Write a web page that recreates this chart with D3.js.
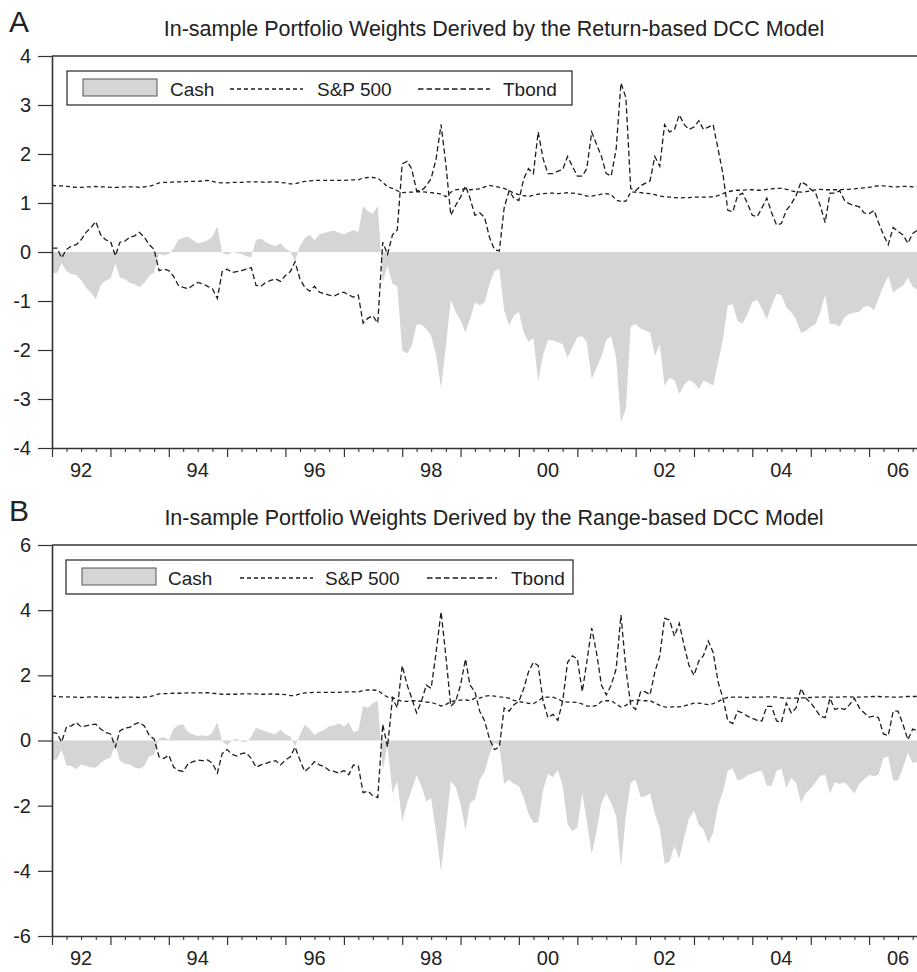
<!DOCTYPE html>
<html>
<head>
<meta charset="utf-8">
<script src="https://cdn.jsdelivr.net/npm/d3@7"></script>
<style>
  body { margin: 0; background: #fff; }
  svg { display: block; }
  text { font-family: "Liberation Sans", Arial, sans-serif; fill: #222; }
</style>
</head>
<body>
<svg id="chart" width="917" height="972"></svg>
<script>
// monthly observations, Jan 1992 .. Nov 2006
const tbA = [
  0.08,0.08,-0.12,0.05,0.12,0.15,0.25,0.4,0.5,0.62,
  0.35,0.25,0.22,-0.08,0.2,0.22,0.3,0.33,0.4,0.3,
  0.15,0.05,-0.38,-0.35,-0.38,-0.5,-0.68,-0.72,-0.75,-0.68,
  -0.62,-0.65,-0.7,-0.75,-0.95,-0.4,-0.35,-0.42,-0.4,-0.38,
  -0.35,-0.32,-0.68,-0.7,-0.62,-0.58,-0.55,-0.6,-0.48,-0.4,
  -0.2,-0.55,-0.72,-0.8,-0.7,-0.82,-0.85,-0.88,-0.9,-0.85,
  -0.82,-0.88,-0.92,-0.88,-1.45,-1.35,-1.3,-1.45,0.2,-0.05,
  0.35,0.45,1.8,1.85,1.7,1.25,1.25,1.35,1.5,1.9,
  2.6,1.8,0.75,0.95,1.12,1.35,1.1,0.75,0.8,0.7,
  0.3,0.05,0.02,0.9,1.25,1.1,1.05,1.5,1.7,1.6,
  2.45,1.9,1.6,1.6,1.65,1.68,1.95,1.75,1.55,1.55,
  1.7,2.45,2.2,1.95,1.6,1.55,2.1,3.45,3.15,1.3,
  1.25,1.35,1.4,1.45,1.95,1.75,2.6,2.45,2.5,2.8,
  2.6,2.5,2.55,2.68,2.5,2.55,2.6,2.1,1.6,0.85,
  0.82,1.15,1.2,1.0,0.75,0.72,0.9,1.1,0.8,0.55,
  0.58,0.85,0.98,1.15,1.43,1.38,1.28,1.2,0.95,0.6,
  1.2,1.2,1.25,1.05,0.98,0.95,0.92,0.8,0.78,0.85,
  0.6,0.35,0.15,0.5,0.42,0.35,0.18,0.38,0.45
];
const spA = [
  1.36,1.35,1.35,1.34,1.33,1.32,1.32,1.33,1.33,1.34,
  1.33,1.33,1.32,1.32,1.32,1.33,1.33,1.33,1.32,1.33,
  1.34,1.37,1.41,1.42,1.42,1.43,1.43,1.43,1.44,1.44,
  1.44,1.45,1.46,1.44,1.42,1.41,1.41,1.42,1.42,1.42,
  1.43,1.43,1.43,1.43,1.42,1.43,1.43,1.42,1.41,1.39,
  1.39,1.42,1.44,1.45,1.46,1.46,1.46,1.46,1.46,1.46,
  1.46,1.47,1.47,1.47,1.51,1.52,1.52,1.51,1.42,1.33,
  1.3,1.25,1.21,1.22,1.22,1.23,1.23,1.22,1.21,1.2,
  1.18,1.13,1.22,1.27,1.28,1.29,1.27,1.28,1.29,1.33,
  1.36,1.34,1.32,1.3,1.25,1.2,1.17,1.15,1.13,1.16,
  1.18,1.19,1.2,1.2,1.19,1.2,1.21,1.2,1.19,1.17,
  1.14,1.14,1.16,1.18,1.19,1.17,1.06,1.03,1.04,1.22,
  1.22,1.21,1.2,1.19,1.17,1.14,1.13,1.12,1.11,1.1,
  1.11,1.11,1.12,1.12,1.12,1.12,1.13,1.15,1.19,1.23,
  1.25,1.26,1.26,1.27,1.27,1.26,1.26,1.28,1.29,1.3,
  1.3,1.28,1.25,1.23,1.22,1.23,1.25,1.27,1.28,1.27,
  1.27,1.27,1.27,1.28,1.28,1.29,1.3,1.31,1.32,1.34,
  1.35,1.35,1.34,1.33,1.33,1.34,1.34,1.33,1.33
];
const cashA = [
  -0.44,-0.43,-0.23,-0.39,-0.45,-0.47,-0.57,-0.73,-0.83,-0.96,
  -0.68,-0.58,-0.54,-0.24,-0.52,-0.55,-0.63,-0.66,-0.72,-0.63,
  -0.49,-0.42,-0.03,-0.07,-0.04,0.07,0.25,0.29,0.31,0.24,
  0.18,0.2,0.24,0.31,0.53,-0.01,-0.06,0.0,-0.02,-0.04,
  -0.08,-0.11,0.25,0.27,0.2,0.15,0.12,0.18,0.07,0.01,
  -0.19,0.13,0.28,0.35,0.24,0.36,0.39,0.42,0.44,0.39,
  0.36,0.41,0.45,0.41,0.94,0.83,0.78,0.94,-0.62,-0.28,
  -0.65,-0.7,-2.01,-2.07,-1.92,-1.48,-1.48,-1.57,-1.71,-2.1,
  -2.78,-1.93,-0.97,-1.22,-1.4,-1.64,-1.37,-1.03,-1.09,-1.03,
  -0.66,-0.39,-0.34,-1.2,-1.5,-1.3,-1.22,-1.65,-1.83,-1.76,
  -2.63,-2.09,-1.8,-1.8,-1.84,-1.88,-2.16,-1.95,-1.74,-1.72,
  -1.84,-2.59,-2.36,-2.13,-1.79,-1.72,-2.16,-3.48,-3.19,-1.52,
  -1.47,-1.56,-1.6,-1.64,-2.12,-1.89,-2.73,-2.57,-2.61,-2.9,
  -2.71,-2.61,-2.67,-2.8,-2.62,-2.67,-2.73,-2.25,-1.79,-1.08,
  -1.07,-1.41,-1.46,-1.27,-1.02,-0.98,-1.16,-1.38,-1.09,-0.85,
  -0.88,-1.13,-1.23,-1.38,-1.65,-1.61,-1.53,-1.47,-1.23,-0.87,
  -1.47,-1.47,-1.52,-1.33,-1.26,-1.24,-1.22,-1.11,-1.1,-1.19,
  -0.95,-0.7,-0.49,-0.83,-0.75,-0.69,-0.52,-0.71,-0.78
];

const tbB = [
  0.25,0.22,-0.05,0.42,0.45,0.55,0.42,0.45,0.48,0.5,
  0.35,0.25,0.2,-0.2,0.3,0.38,0.4,0.5,0.55,0.45,
  0.15,0.05,-0.5,-0.55,-0.45,-0.82,-0.92,-0.95,-0.72,-0.65,
  -0.6,-0.62,-0.6,-0.7,-1.0,-0.4,-0.28,-0.42,-0.48,-0.4,
  -0.38,-0.55,-0.82,-0.75,-0.7,-0.65,-0.62,-0.75,-0.6,-0.5,
  -0.2,-0.6,-0.95,-0.82,-0.65,-0.75,-0.8,-0.92,-0.95,-1.0,
  -0.92,-1.05,-0.75,-0.78,-1.6,-1.55,-1.7,-1.75,0.5,-0.2,
  1.3,1.0,2.3,1.7,1.3,0.85,1.2,1.7,1.6,2.7,
  3.95,2.6,1.05,1.2,1.7,2.5,1.7,1.5,0.9,0.6,
  0.05,-0.28,-0.2,1.0,0.9,1.1,1.2,1.6,2.1,2.4,
  2.3,1.2,0.7,0.8,0.62,1.2,2.4,2.6,2.5,1.5,
  2.4,3.45,2.7,1.7,1.4,1.7,2.2,3.85,2.2,1.1,
  0.95,1.5,1.5,1.4,2.1,2.6,3.75,3.7,3.2,3.6,
  2.9,2.3,2.0,2.45,2.6,3.05,2.7,1.8,1.3,0.6,
  0.52,0.9,0.85,0.75,0.68,0.62,0.6,1.05,1.05,0.6,
  0.55,1.15,0.85,1.0,1.6,1.3,1.15,0.95,0.75,0.7,
  1.3,0.95,1.0,0.95,1.1,1.3,1.0,0.85,0.72,0.75,
  0.7,0.2,0.15,0.9,0.9,0.5,0.02,0.35,0.3
];
const spB = [
  1.36,1.35,1.34,1.34,1.33,1.33,1.32,1.33,1.34,1.34,
  1.33,1.33,1.32,1.32,1.32,1.33,1.33,1.33,1.32,1.33,
  1.34,1.38,1.43,1.44,1.44,1.45,1.45,1.45,1.46,1.46,
  1.46,1.46,1.47,1.45,1.44,1.42,1.42,1.42,1.42,1.43,
  1.43,1.43,1.43,1.42,1.42,1.43,1.42,1.42,1.41,1.38,
  1.38,1.43,1.46,1.47,1.48,1.48,1.48,1.48,1.48,1.48,
  1.49,1.49,1.49,1.49,1.54,1.55,1.55,1.54,1.42,1.33,
  1.32,1.25,1.2,1.2,1.22,1.22,1.2,1.18,1.17,1.12,
  1.06,1.1,1.2,1.22,1.24,1.25,1.22,1.3,1.3,1.36,
  1.38,1.36,1.34,1.33,1.3,1.23,1.2,1.17,1.14,1.13,
  1.22,1.32,1.33,1.33,1.28,1.2,1.18,1.18,1.17,1.12,
  1.06,1.04,1.08,1.2,1.22,1.22,1.12,1.03,1.08,1.2,
  1.25,1.23,1.22,1.22,1.15,1.08,1.03,1.02,1.04,1.03,
  1.06,1.1,1.15,1.15,1.12,1.1,1.13,1.2,1.27,1.32,
  1.33,1.33,1.33,1.32,1.33,1.33,1.33,1.34,1.34,1.33,
  1.31,1.3,1.3,1.3,1.31,1.31,1.32,1.33,1.33,1.34,
  1.33,1.33,1.33,1.34,1.34,1.33,1.33,1.34,1.34,1.35,
  1.35,1.34,1.34,1.33,1.33,1.34,1.35,1.35,1.35
];
const cashB = [
  -0.61,-0.57,-0.29,-0.76,-0.78,-0.88,-0.74,-0.78,-0.82,-0.84,
  -0.68,-0.58,-0.52,-0.12,-0.62,-0.71,-0.73,-0.83,-0.87,-0.78,
  -0.49,-0.43,0.07,0.11,0.01,0.37,0.47,0.5,0.26,0.19,
  0.14,0.16,0.13,0.25,0.56,-0.02,-0.14,0.0,0.06,-0.03,
  -0.05,0.12,0.39,0.33,0.28,0.22,0.2,0.33,0.19,0.12,
  -0.18,0.17,0.49,0.35,0.17,0.27,0.32,0.44,0.47,0.52,
  0.43,0.56,0.26,0.29,1.06,1.0,1.15,1.21,-0.92,-0.13,
  -1.62,-1.25,-2.5,-1.9,-1.52,-1.07,-1.4,-1.88,-1.77,-2.82,
  -4.01,-2.7,-1.25,-1.42,-1.94,-2.75,-1.92,-1.8,-1.2,-0.96,
  -0.43,-0.08,-0.14,-1.33,-1.2,-1.33,-1.4,-1.77,-2.24,-2.53,
  -2.52,-1.52,-1.03,-1.13,-0.9,-1.4,-2.58,-2.78,-2.67,-1.62,
  -2.46,-3.49,-2.78,-1.9,-1.62,-1.92,-2.32,-3.88,-2.28,-1.3,
  -1.2,-1.73,-1.72,-1.62,-2.25,-2.68,-3.78,-3.72,-3.24,-3.63,
  -2.96,-2.4,-2.15,-2.6,-2.72,-3.15,-2.83,-2.0,-1.57,-0.92,
  -0.85,-1.23,-1.18,-1.07,-1.01,-0.95,-0.93,-1.39,-1.39,-0.93,
  -0.86,-1.45,-1.15,-1.3,-1.91,-1.61,-1.47,-1.28,-1.08,-1.04,
  -1.63,-1.28,-1.33,-1.29,-1.44,-1.63,-1.33,-1.19,-1.06,-1.1,
  -1.05,-0.54,-0.49,-1.23,-1.23,-0.84,-0.37,-0.7,-0.65
];

const yTicksA = [-4, -3, -2, -1, 0, 1, 2, 3, 4];
const yTicksB = [-6, -4, -2, 0, 2, 4, 6];
const labelYears = [1992, 1994, 1996, 1998, 2000, 2002, 2004, 2006];
const labelText = ["92", "94", "96", "98", "00", "02", "04", "06"];
const seriesNames = ["Cash", "S&P 500", "Tbond"];

const months = d3.timeMonth.range(new Date(1992, 0, 1), new Date(2006, 11, 1));

const W = 917, left = 52, yearW = 58.36;
const svg = d3.select("#chart");
const x = d3.scaleTime()
    .domain([new Date(1992, 0, 1), new Date(2007, 0, 1)])
    .range([left, left + 15 * yearW]);

const CASH_FILL = "#d4d5d7", INK = "#1e1e1e", AXIS = "#333";

function drawPanel(p) {
    const g = svg.append("g");
    const y = d3.scaleLinear().domain(p.yDomain).range([p.bottom, p.top]);

    svg.append("clipPath").attr("id", "clip" + p.letter)
        .append("rect")
        .attr("x", left).attr("y", p.top)
        .attr("width", W - left).attr("height", p.bottom - p.top);

    const rows = months.map((d, i) => ({d, cash: p.cash[i], sp: p.sp[i], tb: p.tb[i]}));
    const plot = g.append("g").attr("clip-path", `url(#clip${p.letter})`);

    plot.append("path").datum(rows)
        .attr("fill", CASH_FILL)
        .attr("d", d3.area().x(r => x(r.d)).y0(y(0)).y1(r => y(r.cash)));

    plot.append("path").datum(rows)
        .attr("fill", "none").attr("stroke", INK).attr("stroke-width", 1.3)
        .attr("stroke-dasharray", "4,3")
        .attr("d", d3.line().x(r => x(r.d)).y(r => y(r.sp)));

    plot.append("path").datum(rows)
        .attr("fill", "none").attr("stroke", INK).attr("stroke-width", 1.3)
        .attr("stroke-dasharray", "5.5,3")
        .attr("d", d3.line().x(r => x(r.d)).y(r => y(r.tb)));

    // y axis
    const ya = g.append("g").attr("transform", `translate(${left},0)`)
        .call(d3.axisLeft(y).tickValues(p.yTicks).tickSize(14).tickSizeOuter(0)
            .tickPadding(7).tickFormat(d => String(d)));
    ya.select(".domain").attr("stroke", AXIS).attr("stroke-width", 1.6);
    ya.selectAll(".tick line").attr("stroke", AXIS).attr("stroke-width", 1.2);
    ya.selectAll(".tick text").attr("font-size", 20).attr("fill", "#222")
        .attr("font-family", "Liberation Sans, Arial, sans-serif");

    // x axis: yearly major ticks, quarterly minor ticks
    const xa = g.append("g").attr("transform", `translate(0,${p.bottom})`)
        .call(d3.axisBottom(x).ticks(d3.timeYear.every(1)).tickSize(9).tickSizeOuter(0).tickFormat(""));
    xa.select(".domain").attr("stroke", AXIS).attr("stroke-width", 1.6);
    xa.selectAll(".tick line").attr("stroke", AXIS).attr("stroke-width", 1.2);

    const quarters = d3.timeMonth.every(3).range(new Date(1992, 0, 1), new Date(2007, 0, 1))
        .filter(d => d.getMonth() !== 0);
    const xm = g.append("g").attr("transform", `translate(0,${p.bottom})`)
        .call(d3.axisBottom(x).tickValues(quarters).tickSize(4).tickSizeOuter(0).tickFormat(""));
    xm.select(".domain").remove();
    xm.selectAll(".tick line").attr("stroke", AXIS).attr("stroke-width", 1.1);

    g.selectAll(".yr").data(labelYears).join("text")
        .attr("x", yr => x(new Date(yr, 6, 1)))
        .attr("y", p.bottom + 29)
        .attr("text-anchor", "middle").attr("font-size", 20)
        .text((yr, i) => labelText[i]);

    // top frame line
    g.append("line").attr("x1", left).attr("x2", W).attr("y1", p.top).attr("y2", p.top)
        .attr("stroke", AXIS).attr("stroke-width", 1.6);

    // titles
    g.append("text").attr("x", 9).attr("y", p.top - 24).attr("font-size", 30).text(p.letter);
    g.append("text").attr("x", 494).attr("y", p.top - 20).attr("text-anchor", "middle")
        .attr("font-size", 21.5).text(p.title);

    // legend
    const L = p.legend, ly = p.top + 15;
    g.append("rect").attr("x", L.box[0]).attr("y", ly).attr("width", L.box[1] - L.box[0]).attr("height", 34)
        .attr("fill", "#fff").attr("stroke", AXIS).attr("stroke-width", 1.3);
    g.append("rect").attr("x", L.rect[0]).attr("y", ly + 8).attr("width", L.rect[1] - L.rect[0]).attr("height", 17)
        .attr("fill", CASH_FILL).attr("stroke", "#555").attr("stroke-width", 1);
    g.append("line").attr("x1", L.sp[0]).attr("x2", L.sp[1]).attr("y1", ly + 18).attr("y2", ly + 18)
        .attr("stroke", INK).attr("stroke-width", 1.3).attr("stroke-dasharray", "4,3");
    g.append("line").attr("x1", L.tb[0]).attr("x2", L.tb[1]).attr("y1", ly + 18).attr("y2", ly + 18)
        .attr("stroke", INK).attr("stroke-width", 1.3).attr("stroke-dasharray", "5.5,3");
    L.text.forEach((tx, i) => {
        g.append("text").attr("x", tx).attr("y", ly + 24.5).attr("font-size", 19).text(seriesNames[i]);
    });
}

drawPanel({
    letter: "A", top: 56, bottom: 448, yDomain: [-4, 4], yTicks: yTicksA,
    title: "In-sample Portfolio Weights Derived by the Return-based DCC Model",
    cash: cashA, sp: spA, tb: tbA,
    legend: {box: [67, 572], rect: [83, 157], sp: [230, 303], tb: [418, 490], text: [170, 317, 503]}
});
drawPanel({
    letter: "B", top: 545, bottom: 936, yDomain: [-6, 6], yTicks: yTicksB,
    title: "In-sample Portfolio Weights Derived by the Range-based DCC Model",
    cash: cashB, sp: spB, tb: tbB,
    legend: {box: [66, 573], rect: [82, 156], sp: [240, 313], tb: [427, 497], text: [168, 325, 511]}
});
</script>
</body>
</html>
